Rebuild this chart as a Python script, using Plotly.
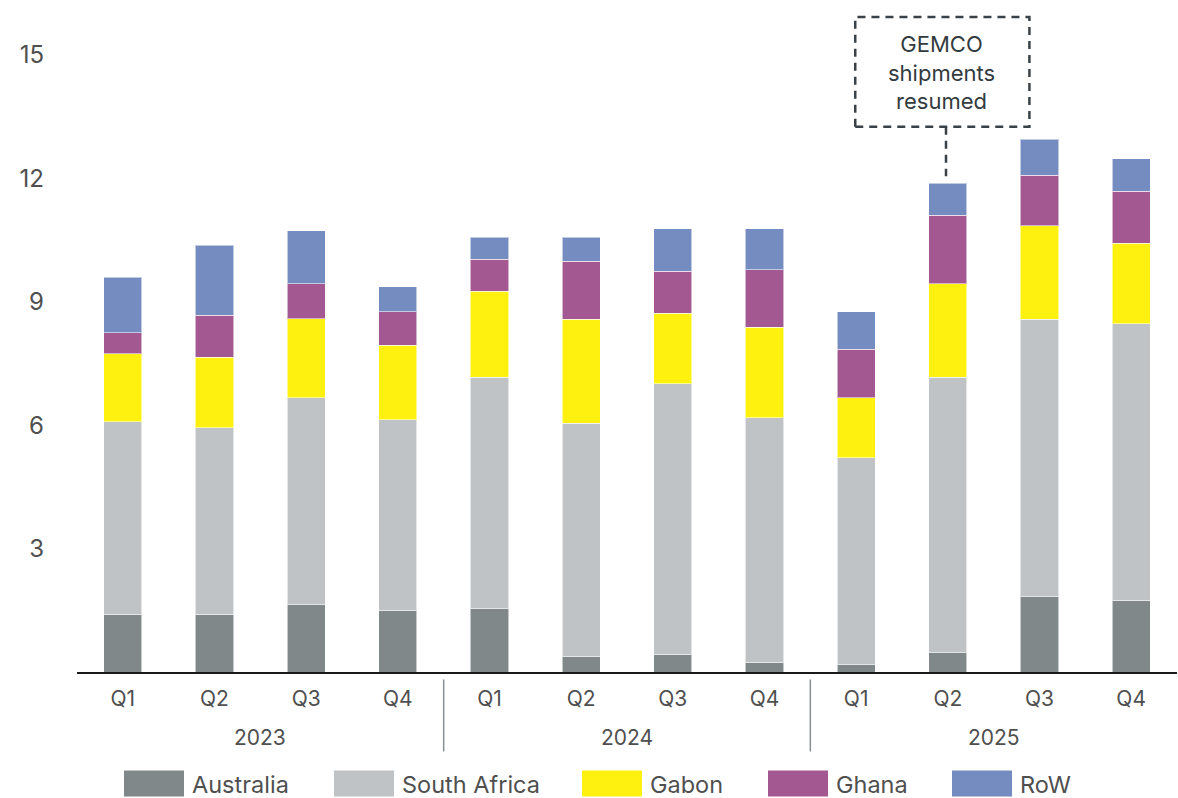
import plotly.graph_objects as go

# Quarterly volumes by origin (Mt), stacked
quarters = ["Q1", "Q2", "Q3", "Q4"] * 3
years = ["2023"] * 4 + ["2024"] * 4 + ["2025"] * 4

australia = [1.40, 1.40, 1.64, 1.50, 1.54, 0.38, 0.43, 0.24, 0.18, 0.47, 1.83, 1.74]
south_africa = [4.68, 4.54, 5.03, 4.63, 5.62, 5.66, 6.58, 5.94, 5.03, 6.69, 6.74, 6.73]
gabon = [1.66, 1.71, 1.91, 1.81, 2.09, 2.53, 1.71, 2.20, 1.45, 2.28, 2.28, 1.95]
ghana = [0.50, 1.02, 0.86, 0.82, 0.78, 1.41, 1.02, 1.40, 1.18, 1.66, 1.22, 1.26]
row = [1.36, 1.70, 1.28, 0.60, 0.54, 0.59, 1.03, 0.99, 0.92, 0.78, 0.88, 0.79]

series_names = ["Australia", "South Africa", "Gabon", "Ghana", "RoW"]
series_values = [australia, south_africa, gabon, ghana, row]
series_colors = ["#80888a", "#c0c3c6", "#fff10f", "#a35891", "#758cc0"]

y_ticks = [3, 6, 9, 12, 15]
note_text = "GEMCO<br>shipments<br>resumed"
note_quarter = 9  # 2025 Q2

FONT = "Inter"
TEXT = "#4f4f4f"

W, H = 1178, 798
M_L, M_R, M_T, M_B = 77, 1, 10, 125.5
plot_w = W - M_L - M_R
plot_h = H - M_T - M_B

x_pos = list(range(len(quarters)))

fig = go.Figure()
for name, vals, col in zip(series_names, series_values, series_colors):
    fig.add_trace(go.Bar(
        x=x_pos, y=vals, name=name,
        marker=dict(color=col, line=dict(color="rgba(255,255,255,0.55)", width=1)),
        width=0.415, showlegend=False,
    ))

totals = [sum(v) for v in zip(*series_values)]

# year group labels and dividers below the axis
year_order = []
for y in years:
    if y not in year_order:
        year_order.append(y)
annotations = []
shapes = []
for yr in year_order:
    idx = [i for i, y in enumerate(years) if y == yr]
    annotations.append(dict(
        x=(idx[0] + idx[-1]) / 2, xref="x", y=-(738 - (H - M_B)) / plot_h, yref="paper",
        text=yr, showarrow=False, font=dict(family=FONT, size=21, color=TEXT),
        xanchor="center", yanchor="middle",
    ))
    if idx[0] > 0:
        shapes.append(dict(
            type="line", xref="x", yref="paper",
            x0=idx[0] - 0.5, x1=idx[0] - 0.5,
            y0=-(680 - (H - M_B)) / plot_h, y1=-(752 - (H - M_B)) / plot_h,
            line=dict(color="#8a8f91", width=1.5),
        ))

# callout box with connector
dash_line = dict(color="#3a4247", width=2.5, dash="8px,6px")
shapes.append(dict(type="rect", xref="x", yref="y",
                   x0=note_quarter - 1.01, x1=note_quarter + 0.89,
                   y0=13.25, y1=15.92, line=dash_line, fillcolor="rgba(0,0,0,0)"))
shapes.append(dict(type="line", xref="x", yref="y",
                   x0=note_quarter - 0.02, x1=note_quarter - 0.02,
                   y0=13.25, y1=totals[note_quarter] + 0.17, line=dash_line))
annotations.append(dict(
    x=note_quarter - 0.07, xref="x", y=14.58, yref="y", text=note_text,
    showarrow=False, align="center", xanchor="center", yanchor="middle",
    font=dict(family=FONT, size=22, color="#333b40"),
))

# legend row
legend_x = [124, 334, 582, 768, 952]
sw_w = 60
sw_top, sw_bot = 771, 797
for name, col, lx in zip(series_names, series_colors, legend_x):
    shapes.append(dict(
        type="rect", xref="paper", yref="paper",
        x0=(lx - M_L) / plot_w, x1=(lx + sw_w - M_L) / plot_w,
        y0=-(sw_top - (H - M_B)) / plot_h, y1=-(sw_bot - (H - M_B)) / plot_h,
        line=dict(width=0), fillcolor=col,
    ))
    annotations.append(dict(
        x=(lx + sw_w + 6 - M_L) / plot_w, xref="paper",
        y=-(785 - (H - M_B)) / plot_h, yref="paper",
        text=name, showarrow=False, xanchor="left", yanchor="middle",
        font=dict(family=FONT, size=23.5, color=TEXT),
    ))

fig.update_layout(
    barmode="stack",
    width=W, height=H,
    margin=dict(l=M_L, r=M_R, t=M_T, b=M_B, autoexpand=False),
    paper_bgcolor="white", plot_bgcolor="white",
    font=dict(family=FONT, color=TEXT),
    shapes=shapes, annotations=annotations,
    showlegend=False,
)
fig.update_xaxes(
    range=[-0.5, len(quarters) - 0.5], tickvals=x_pos, ticktext=quarters,
    showgrid=False, zeroline=False, showline=True, linecolor="#1a1a1a", linewidth=2,
    ticks="", tickfont=dict(family=FONT, size=21, color=TEXT), ticklabelstandoff=7,
)
fig.update_yaxes(
    range=[0, 16.09], tickvals=y_ticks, showgrid=False, zeroline=False, showline=False,
    ticks="", tickfont=dict(family=FONT, size=24, color=TEXT), ticklabelstandoff=32,
)

fig.write_html("out.html")
